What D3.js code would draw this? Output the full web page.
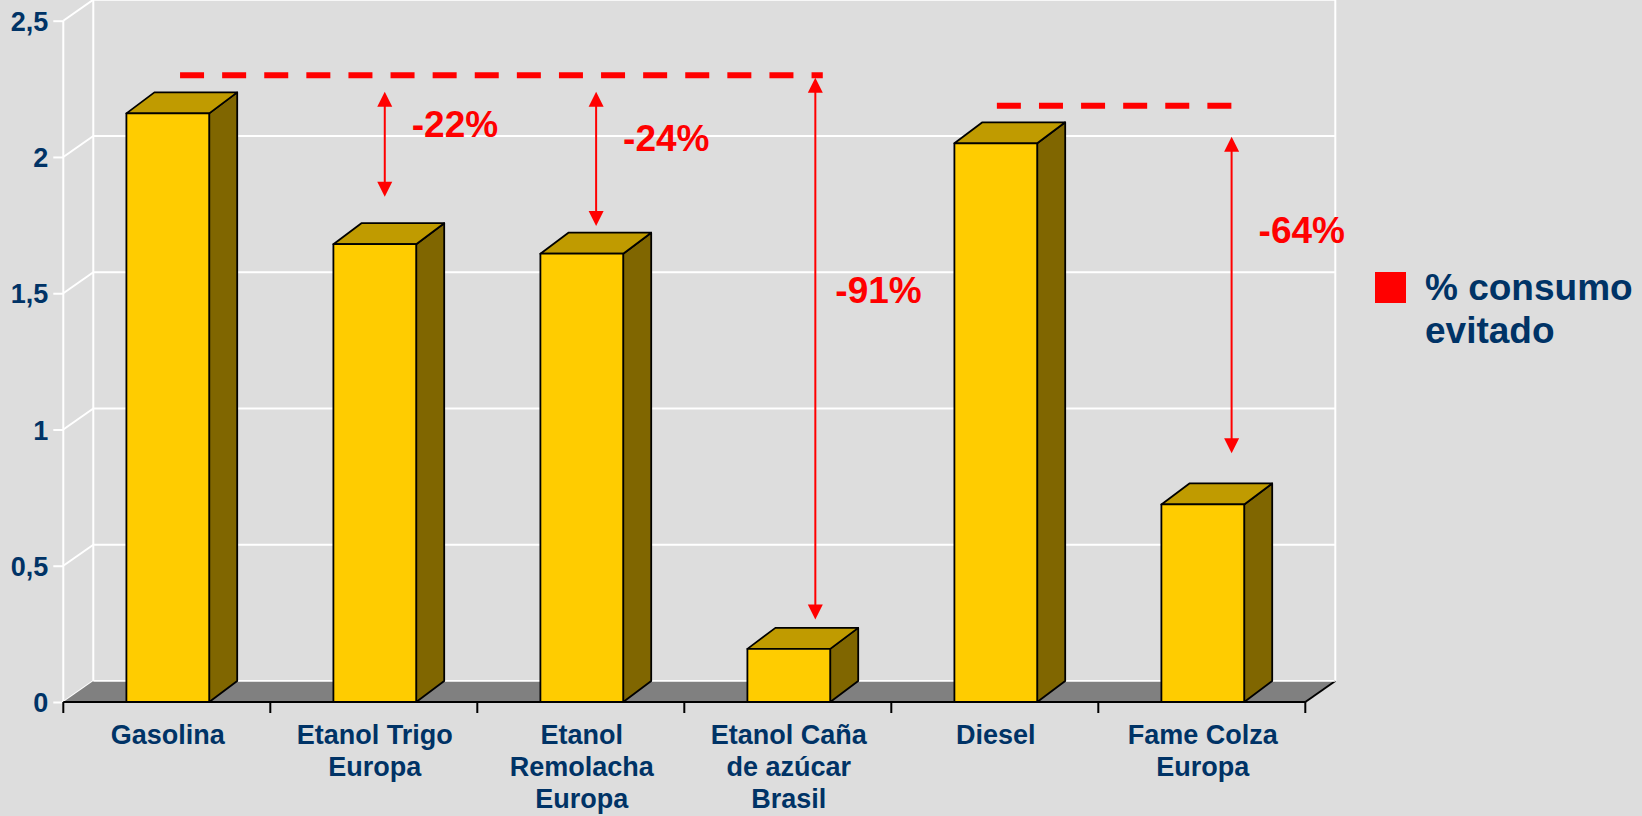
<!DOCTYPE html>
<html>
<head>
<meta charset="utf-8">
<script src="https://cdn.jsdelivr.net/npm/d3@7"></script>
<style>
  html, body { margin: 0; padding: 0; background: #DDDDDD; }
  svg { display: block; }
  text { font-family: "Liberation Sans", Arial, sans-serif; font-weight: bold; }
</style>
</head>
<body>
<svg id="chart" width="1642" height="816"></svg>
<script>
// ---------- data ----------
const categories = ["Gasolina", "Etanol Trigo Europa", "Etanol Remolacha Europa",
                    "Etanol Caña de azúcar Brasil", "Diesel", "Fame Colza Europa"];
const categoryLines = [["Gasolina"], ["Etanol Trigo", "Europa"], ["Etanol", "Remolacha", "Europa"],
                       ["Etanol Caña", "de azúcar", "Brasil"], ["Diesel"], ["Fame Colza", "Europa"]];
const values = [2.16, 1.68, 1.645, 0.195, 2.05, 0.725];
const yTicks = [0, 0.5, 1, 1.5, 2, 2.5];
const yTickLabels = ["0", "0,5", "1", "1,5", "2", "2,5"];

// reference (dashed) levels: start/end given as [category index, fraction of band]
const refLevels = [2.30, 2.188];
const refStarts = [[0, 0.564], [4, 0.51]];
const refEnds = [[3, 0.669], [5, 0.644]];

// arrows: category + fraction of band, top & bottom values, label
const arrowCats = [1, 2, 3, 5];
const arrowFracs = [0.553, 0.574, 0.633, 0.644];
const arrowTops = [2.239, 2.239, 2.291, 2.074];
const arrowBottoms = [1.854, 1.747, 0.303, 0.913];
const arrowLabels = ["-22%", "-24%", "-91%", "-64%"];
const arrowLabelLevels = [2.072, 2.022, 1.465, 1.686];

const legendLabel = ["% consumo", "evitado"];

// ---------- layout ----------
const svg = d3.select("#chart");
const W = 1642, H = 816;
const x0 = 63.3, x1 = 1305.3;
const wallDx = 30, wallDy = -21;
const barDx = 28, barDy = -21;
const textColor = "#003366";
const red = "#FF0000";

const x = d3.scaleBand().domain(categories).range([x0, x1]).paddingInner(0).paddingOuter(0);
const y = d3.scaleLinear().domain([0, 2.5]).range([702, 20.7]);
const bw = x.bandwidth();
const barW = bw * 0.40;
const catX = (i, f) => x(categories[i]) + f * bw;

svg.append("rect").attr("width", W).attr("height", H).attr("fill", "#DDDDDD");

// back wall gridlines
const grid = svg.append("g");
grid.selectAll("line.h").data(yTicks).join("line")
  .attr("x1", x0 + wallDx).attr("x2", x1 + wallDx)
  .attr("y1", d => y(d) + wallDy).attr("y2", d => y(d) + wallDy)
  .attr("stroke", "#FFFFFF").attr("stroke-width", 2);
// left wall diagonals
grid.selectAll("line.d").data(yTicks).join("line")
  .attr("x1", x0).attr("x2", x0 + wallDx)
  .attr("y1", d => y(d)).attr("y2", d => y(d) + wallDy)
  .attr("stroke", "#FFFFFF").attr("stroke-width", 2);
// wall verticals
[[x0, y(2.5), y(0)], [x0 + wallDx, y(2.5) + wallDy, y(0) + wallDy], [x1 + wallDx, y(2.5) + wallDy, y(0) + wallDy]]
  .forEach(([xx, ya, yb]) => grid.append("line").attr("x1", xx).attr("x2", xx).attr("y1", ya).attr("y2", yb)
    .attr("stroke", "#FFFFFF").attr("stroke-width", 2));

// floor
svg.append("polygon")
  .attr("points", [[x0, y(0)], [x1, y(0)], [x1 + wallDx, y(0) + wallDy], [x0 + wallDx, y(0) + wallDy]].map(p => p.join(",")).join(" "))
  .attr("fill", "#808080");
svg.append("line").attr("x1", x1).attr("y1", y(0)).attr("x2", x1 + wallDx).attr("y2", y(0) + wallDy)
  .attr("stroke", "#000").attr("stroke-width", 2);
svg.append("line").attr("x1", x0 + wallDx).attr("y1", y(0) + wallDy).attr("x2", x1 + wallDx).attr("y2", y(0) + wallDy)
  .attr("stroke", "#FFFFFF").attr("stroke-width", 1.5);

// y axis (ticks + labels)
const yAxis = d3.axisLeft(y).tickValues(yTicks).tickSize(10).tickPadding(15)
  .tickFormat((d, i) => yTickLabels[i]);
const yg = svg.append("g").attr("transform", `translate(${x0},0)`).call(yAxis);
yg.select(".domain").remove();
yg.selectAll(".tick line").attr("stroke", "#FFFFFF").attr("stroke-width", 2);
yg.selectAll(".tick text").attr("fill", textColor).attr("font-size", 27)
  .attr("font-family", "Liberation Sans, Arial, sans-serif").attr("font-weight", "bold")
  .attr("dy", "0.36em").attr("x", -15);

// bars
const bars = svg.append("g");
values.forEach((v, i) => {
  const cx = x(categories[i]) + bw / 2 + 1;
  const bx = cx - barW / 2, ex = cx + barW / 2;
  const top = y(v), bot = y(0);
  const g = bars.append("g").attr("stroke", "#000").attr("stroke-width", 1.8).attr("stroke-linejoin", "round");
  g.append("polygon").attr("fill", "#806600")
    .attr("points", [[ex, bot], [ex + barDx, bot + barDy], [ex + barDx, top + barDy], [ex, top]].map(p => p.join(",")).join(" "));
  g.append("polygon").attr("fill", "#C09B00")
    .attr("points", [[bx, top], [bx + barDx, top + barDy], [ex + barDx, top + barDy], [ex, top]].map(p => p.join(",")).join(" "));
  g.append("rect").attr("fill", "#FFCC00").attr("x", bx).attr("y", top).attr("width", barW).attr("height", bot - top);
});

// x axis
const xg = svg.append("g");
xg.append("line").attr("x1", x0).attr("x2", x1).attr("y1", y(0)).attr("y2", y(0))
  .attr("stroke", "#000").attr("stroke-width", 2.2);
const bounds = categories.map(c => x(c)).concat([x1]);
xg.selectAll("line.t").data(bounds).join("line")
  .attr("x1", d => d).attr("x2", d => d).attr("y1", y(0)).attr("y2", y(0) + 11)
  .attr("stroke", "#000").attr("stroke-width", 2);
categoryLines.forEach((lines, i) => {
  const t = xg.append("text").attr("text-anchor", "middle").attr("fill", textColor).attr("font-size", 27)
    .attr("x", x(categories[i]) + bw / 2 + 1).attr("y", 744);
  lines.forEach((ln, k) => t.append("tspan").attr("x", x(categories[i]) + bw / 2 + 1).attr("y", 744 + 32 * k).text(ln));
});

// annotations: dashed reference lines
const ann = svg.append("g");
refLevels.forEach((lv, i) => {
  ann.append("line")
    .attr("x1", catX(refStarts[i][0], refStarts[i][1])).attr("x2", catX(refEnds[i][0], refEnds[i][1]))
    .attr("y1", y(lv)).attr("y2", y(lv))
    .attr("stroke", red).attr("stroke-width", 6).attr("stroke-dasharray", "24 18.1");
});
// arrows
arrowCats.forEach((c, i) => {
  const ax = catX(c, arrowFracs[i]);
  const yt = y(arrowTops[i]), yb = y(arrowBottoms[i]);
  const hw = 7.5, hh = 15;
  ann.append("line").attr("x1", ax).attr("x2", ax).attr("y1", yt + hh - 1).attr("y2", yb - hh + 1)
    .attr("stroke", red).attr("stroke-width", 2);
  ann.append("polygon").attr("fill", red)
    .attr("points", [[ax, yt], [ax - hw, yt + hh], [ax + hw, yt + hh]].map(p => p.join(",")).join(" "));
  ann.append("polygon").attr("fill", red)
    .attr("points", [[ax, yb], [ax - hw, yb - hh], [ax + hw, yb - hh]].map(p => p.join(",")).join(" "));
  ann.append("text").attr("x", ax + (c === 3 ? 20 : 27)).attr("y", y(arrowLabelLevels[i]))
    .attr("fill", red).attr("font-size", 37).text(arrowLabels[i]);
});

// legend
const lg = svg.append("g");
lg.append("rect").attr("x", 1375).attr("y", 272).attr("width", 31).attr("height", 31).attr("fill", red);
legendLabel.forEach((t, k) => lg.append("text").attr("x", 1425).attr("y", 300 + 43 * k)
  .attr("fill", textColor).attr("font-size", 37).text(t));
</script>
</body>
</html>
